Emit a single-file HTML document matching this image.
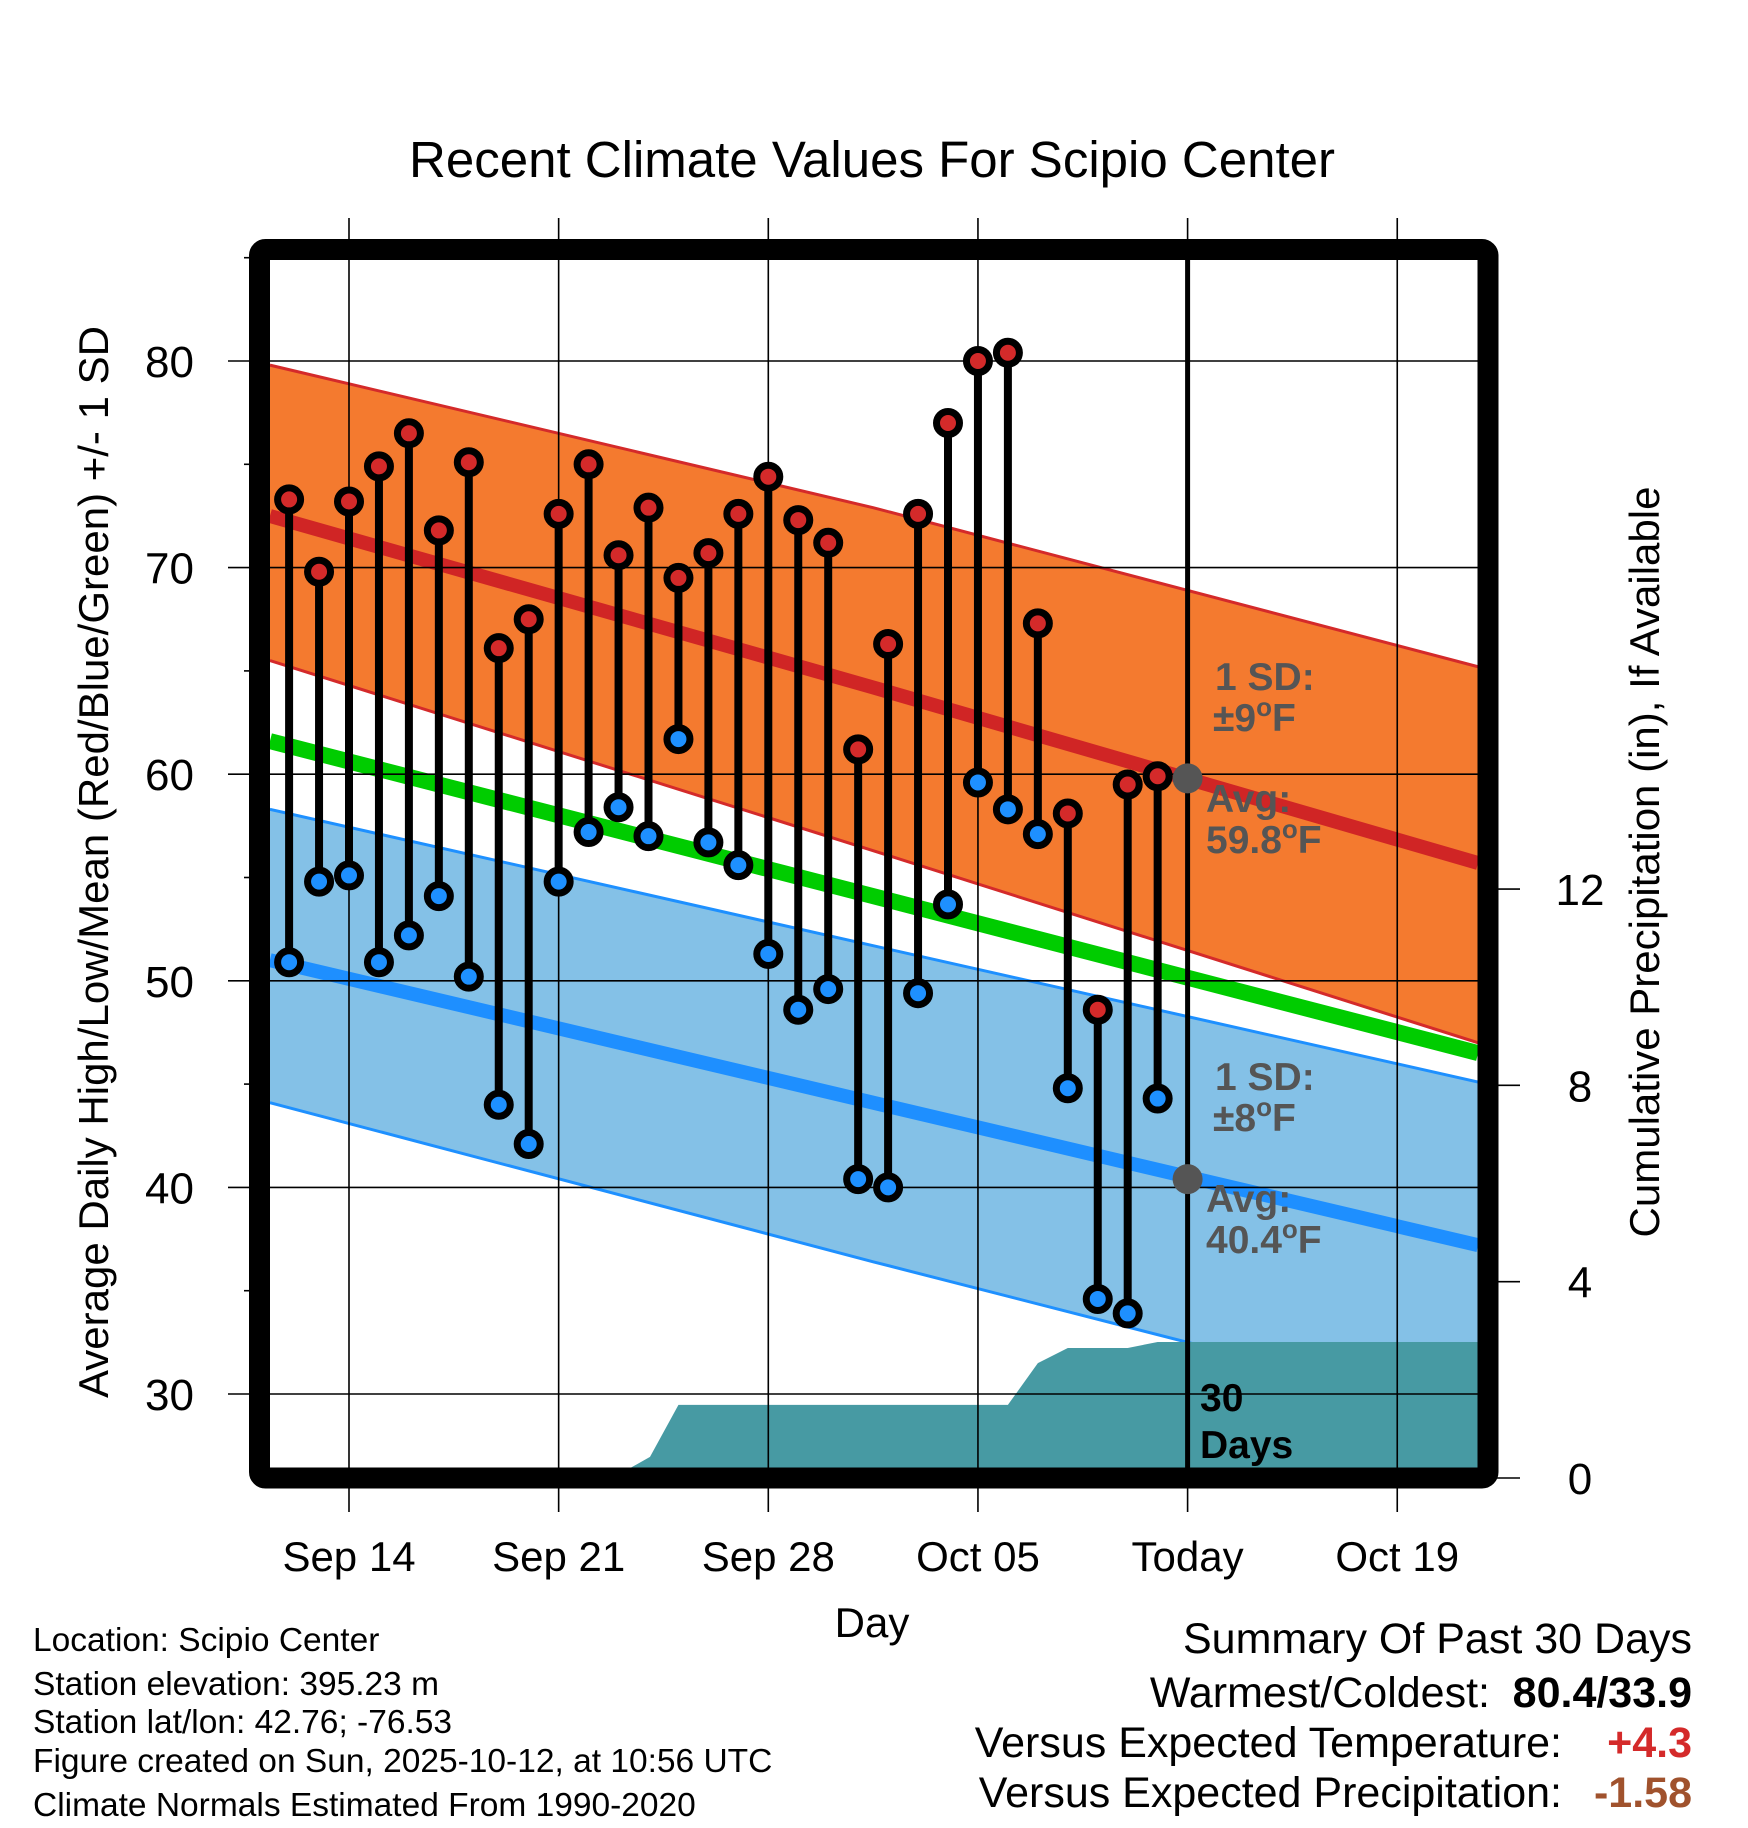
<!DOCTYPE html>
<html><head><meta charset="utf-8"><style>
html,body{margin:0;padding:0;background:#fff;}
svg{display:block;font-family:"Liberation Sans",Arial,sans-serif;}
</style></head><body>
<svg id="chart" width="1748" height="1828" viewBox="0 0 1748 1828" xmlns="http://www.w3.org/2000/svg">
<text x="872" y="177" font-size="51" text-anchor="middle">Recent Climate Values For Scipio Center</text>
<g id="plot"></g>
<text transform="translate(108,862) rotate(-90)" font-size="42" text-anchor="middle">Average Daily High/Low/Mean (Red/Blue/Green) +/- 1 SD</text>
<text transform="translate(1659,862) rotate(-90)" font-size="42" text-anchor="middle">Cumulative Precipitation (in), If Available</text>
<text x="872" y="1637" font-size="42" text-anchor="middle">Day</text>
<g font-size="33.5">
<text x="33" y="1651">Location: Scipio Center</text>
<text x="33" y="1695">Station elevation: 395.23 m</text>
<text x="33" y="1733">Station lat/lon: 42.76; -76.53</text>
<text x="33" y="1772">Figure created on Sun, 2025-10-12, at 10:56 UTC</text>
<text x="33" y="1816">Climate Normals Estimated From 1990-2020</text>
</g>
<g font-size="43" text-anchor="end">
<text x="1692" y="1653">Summary Of Past 30 Days</text>
<text x="1490" y="1707">Warmest/Coldest:</text>
<text x="1692" y="1707" font-weight="bold">80.4/33.9</text>
<text x="1562" y="1757">Versus Expected Temperature:</text>
<text x="1692" y="1757" font-weight="bold" fill="#d42a2a">+4.3</text>
<text x="1562" y="1807">Versus Expected Precipitation:</text>
<text x="1692" y="1807" font-weight="bold" fill="#a0522d">-1.58</text>
</g>
</svg>
<script>
// day index: 0 = Sep 14
const dayIdx = [-2,-1,0,1,2,3,4,5,6,7,8,9,10,11,12,13,14,15,16,17,18,19,20,21,22,23,24,25,26,27];
const highs = [73.3,69.8,73.2,74.9,76.5,71.8,75.1,66.1,67.5,72.6,75.0,70.6,72.9,69.5,70.7,72.6,74.4,72.3,71.2,61.2,66.3,72.6,77.0,80.0,80.4,67.3,58.1,48.6,59.5,59.9];
const lows  = [50.9,54.8,55.1,50.9,52.2,54.1,50.2,44.0,42.1,54.8,57.2,58.4,57.0,61.7,56.7,55.6,51.3,48.6,49.6,40.4,40.0,49.4,53.7,59.6,58.3,57.1,44.8,34.6,33.9,44.3];
const normDays = [-2.64, 17.5, 37.7];
const hiSdTop = [79.8, 72.9, 65.2];
const hiMean  = [72.5, 64.2, 55.7];
const hiSdBot = [65.5, 56.3, 47.0];
const avgMean = [61.6, 54.1, 46.5];
const loSdTop = [58.3, 51.7, 45.1];
const loMean  = [51.0, 44.1, 37.2];
const loSdBot = [44.1, 36.4, 28.9];
const precipDays = [-2.64, 9.3, 9.38, 10.05, 11.0, 22.0, 23.0, 24.0, 26.0, 27.0, 37.7];
const precipVals = [0, 0, 0.2, 0.43, 1.49, 1.49, 2.34, 2.65, 2.65, 2.77, 2.77];
const xTickDays = [0, 7, 14, 21, 28, 35];
const xTickLabels = ["Sep 14","Sep 21","Sep 28","Oct 05","Today","Oct 19"];
const yTicks = [30,40,50,60,70,80];
const yMinor = [35,45,55,65,75,85];
const pTicks = [0,4,8,12];
const todayDay = 28;
const todayHi = 59.8, todayLo = 40.4;

const NS = "http://www.w3.org/2000/svg";
const X = d => 349 + d * 29.95;
const Y = v => 361 + (80 - v) * 20.66;
const P = p => 1478 - p * 49.08;
const L = 270, R = 1478, T = 260, B = 1468;
const g = document.getElementById('plot');
function mk(tag, attrs, parent) {
  const e = document.createElementNS(NS, tag);
  for (const k in attrs) e.setAttribute(k, attrs[k]);
  (parent || g).appendChild(e);
  return e;
}
const defs = mk('defs', {});
const cp = mk('clipPath', {id: 'clip'}, defs);
mk('rect', {x: L, y: T, width: R - L, height: B - T}, cp);
const inner = mk('g', {'clip-path': 'url(#clip)'});



function band(top, bot, fill, name) {
  let d = '';
  normDays.forEach((dd, i) => { d += (i ? 'L' : 'M') + X(dd) + ',' + Y(top[i]); });
  for (let i = normDays.length - 1; i >= 0; i--) d += 'L' + X(normDays[i]) + ',' + Y(bot[i]);
  const e = mk('path', {d: d + 'Z', fill: fill}, inner);
  
  
}
function line(arr, col, w, name) {
  const e = mk('polyline', {points: normDays.map((dd, i) => X(dd) + ',' + Y(arr[i])).join(' '), fill: 'none', stroke: col, 'stroke-width': w}, inner);
  
  
}
band(hiSdTop, hiSdBot, '#f47a2f', 'high-sd-band');
line(hiSdTop, '#d42a2a', 3, 'high-sd-top-line');
line(hiSdBot, '#d42a2a', 3, 'high-sd-bottom-line');
band(loSdTop, loSdBot, '#84c1e7', 'low-sd-band');
line(loSdTop, '#1e90ff', 3, 'low-sd-top-line');
line(loSdBot, '#1e90ff', 3, 'low-sd-bottom-line');
line(avgMean, '#00cc00', 16, 'mean-normal-line');
line(hiMean, '#d02525', 14, 'high-normal-line');
line(loMean, '#1e8fff', 14, 'low-normal-line');

// precipitation
let pd = 'M' + X(precipDays[0]) + ',' + B;
precipDays.forEach((dd, i) => { pd += 'L' + X(dd) + ',' + P(precipVals[i]); });
pd += 'L' + X(precipDays[precipDays.length - 1]) + ',' + B + 'Z';
const pr = mk('path', {d: pd, fill: '#479aa3'}, inner);



// gridlines
xTickDays.forEach(d => {
  const e = mk('line', {x1: X(d), x2: X(d), y1: 218, y2: 1512, stroke: '#000', 'stroke-width': 1.6});
  
  
});
yTicks.forEach(v => {
  const e = mk('line', {x1: 228, x2: R, y1: Y(v), y2: Y(v), stroke: '#000', 'stroke-width': 1.6});
  
  
  const t = mk('text', {x: 194, y: Y(v) + 16, 'font-size': 44, 'text-anchor': 'end'});
  t.textContent = v;
  
  
});
yMinor.forEach(v => {
  const e = mk('line', {x1: 244, x2: 258, y1: Y(v), y2: Y(v), stroke: '#000', 'stroke-width': 1.6});
  
  
});
pTicks.forEach(p => {
  const e = mk('line', {x1: R, x2: 1520, y1: P(p), y2: P(p), stroke: '#000', 'stroke-width': 1.6});
  
  
  const t = mk('text', {x: 1580, y: P(p) + 16, 'font-size': 44, 'text-anchor': 'middle'});
  t.textContent = p;
  
  
});
xTickDays.forEach((d, i) => {
  const t = mk('text', {x: X(d), y: 1571, 'font-size': 42, 'text-anchor': 'middle'});
  t.textContent = xTickLabels[i];
  
  
});

// today line
const tl = mk('line', {x1: X(todayDay), x2: X(todayDay), y1: T, y2: B, stroke: '#000', 'stroke-width': 5});



// annotations
function ann(x, y, s, name, fill, size) {
  const t = mk('text', {x: x, y: y, 'font-size': size || 39, 'font-weight': 'bold', fill: fill || '#555'});
  t.innerHTML = s;
  
  
}
ann(1215, 690, '1 SD:', 'high-sd-label');
ann(1213, 731, '±9<tspan font-size="26" dy="-15">o</tspan><tspan dy="15">F</tspan>', 'high-sd-value');
ann(1206, 812, 'Avg:', 'high-avg-label');
ann(1206, 853, '59.8<tspan font-size="26" dy="-15">o</tspan><tspan dy="15">F</tspan>', 'high-avg-value');
ann(1215, 1090, '1 SD:', 'low-sd-label');
ann(1213, 1131, '±8<tspan font-size="26" dy="-15">o</tspan><tspan dy="15">F</tspan>', 'low-sd-value');
ann(1206, 1212, 'Avg:', 'low-avg-label');
ann(1206, 1253, '40.4<tspan font-size="26" dy="-15">o</tspan><tspan dy="15">F</tspan>', 'low-avg-value');
ann(1200, 1411, '30', 'days-label-number', '#000');
ann(1200, 1458, 'Days', 'days-label-text', '#000');

// today normal dots
[todayHi, todayLo].forEach(v => {
  const c = mk('circle', {cx: X(todayDay), cy: Y(v), r: 15, fill: '#555'});
  
  
});

// daily bars
dayIdx.forEach((d, i) => {
  const s = mk('line', {x1: X(d), x2: X(d), y1: Y(highs[i]), y2: Y(lows[i]), stroke: '#000', 'stroke-width': 8});
  
  
  const h = mk('circle', {cx: X(d), cy: Y(highs[i]), r: 11.5, fill: '#d42a2a', stroke: '#000', 'stroke-width': 7});
  
  
  const l = mk('circle', {cx: X(d), cy: Y(lows[i]), r: 11.5, fill: '#1e90ff', stroke: '#000', 'stroke-width': 7});
  
  
});

// frame
const fr = mk('rect', {x: 259.5, y: 249.5, width: 1228.5, height: 1228.5, fill: 'none', stroke: '#000', 'stroke-width': 21, rx: 6});


</script>
</body></html>
